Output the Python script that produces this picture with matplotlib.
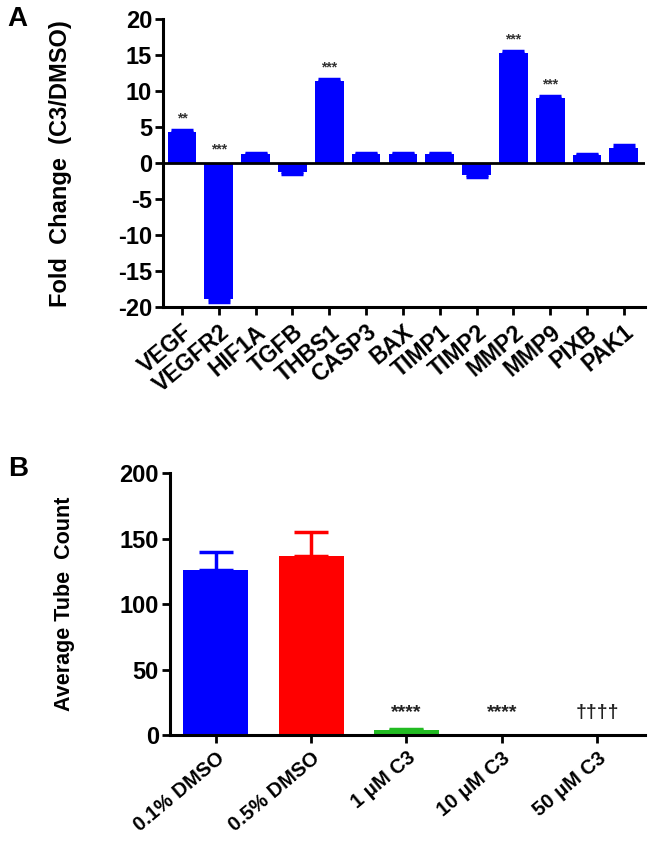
import numpy as np
import matplotlib
matplotlib.use("Agg")
import matplotlib.pyplot as plt

plt.rcParams['font.family'] = ['Liberation Sans', 'DejaVu Sans']
plt.rcParams['font.weight'] = 'bold'
plt.rcParams['axes.unicode_minus'] = False

# panel A data
genes = ['VEGF', 'VEGFR2', 'HIF1A', 'TGFB', 'THBS1', 'CASP3', 'BAX',
         'TIMP1', 'TIMP2', 'MMP2', 'MMP9', 'PIXB', 'PAK1']
fold = [4.3, -18.9, 1.3, -1.2, 11.4, 1.3, 1.3, 1.3, -1.6, 15.3, 9.1, 1.1, 2.2]
fold_err = [0.3, 0.4, 0.2, 0.3, 0.3, 0.2, 0.2, 0.2, 0.3, 0.3, 0.3, 0.2, 0.3]
signif_a = ['**', '***', '', '', '***', '', '', '', '', '***', '***', '', '']

# panel B data
groups = ['0.1% DMSO', '0.5% DMSO', '1 \u03bcM C3', '10 \u03bcM C3', '50 \u03bcM C3']
tubes = [126, 137, 3.5, 0, 0]
tubes_err = [14, 18, 1.5, 0, 0]
bar_colors = ['#0000ff', '#ff0000', '#22bb22', '#0000ff', '#0000ff']
signif_b = ['', '', '****', '****', '\u2020\u2020\u2020\u2020']

fig = plt.figure(figsize=(6.5, 8.42), dpi=100)

# ---- Panel A ----
ax1 = fig.add_axes([0.251, 0.635, 0.741, 0.342])
x = np.arange(len(genes))
ax1.bar(x, fold, width=0.78, color='#0000ff', zorder=2)
err_lo = [0 if v > 0 else e for v, e in zip(fold, fold_err)]
err_hi = [e if v > 0 else 0 for v, e in zip(fold, fold_err)]
ax1.errorbar(x, fold, yerr=[err_lo, err_hi], fmt='none', ecolor='#0000ff',
             elinewidth=2, capsize=8, capthick=2.5, zorder=2)
ax1.axhline(0, color='black', lw=2, zorder=3)
for i, s in enumerate(signif_a):
    if s:
        y = max(fold[i], 0) + fold_err[i] + 0.6
        ax1.text(i, y, s, ha='center', va='bottom', fontsize=10, color='#333333')
ax1.set_ylim(-20, 20)
ax1.set_xlim(-0.51, 12.57)
ax1.set_yticks([-20, -15, -10, -5, 0, 5, 10, 15, 20])
ax1.set_xticks(x)
ax1.set_xticklabels(genes, rotation=40, ha='right', rotation_mode='anchor')
ax1.set_ylabel('Fold  Change  (C3/DMSO)', fontsize=17, fontweight='bold')
ax1.yaxis.set_label_coords(-0.19, 0.5)
for side in ['top', 'right']:
    ax1.spines[side].set_visible(False)
for side in ['left', 'bottom']:
    ax1.spines[side].set_linewidth(2.2)
ax1.tick_params(axis='y', labelsize=17, width=2, length=6, pad=2)
ax1.tick_params(axis='x', labelsize=16.5, width=2, length=6)

# ---- Panel B ----
ax2 = fig.add_axes([0.2615, 0.127, 0.7305, 0.311])
xb = np.arange(len(groups))
ax2.bar(xb, tubes, width=0.68, color=bar_colors, zorder=2)
for i in range(len(groups)):
    if tubes_err[i] > 0:
        ax2.errorbar(xb[i], tubes[i], yerr=[[0], [tubes_err[i]]], fmt='none',
                     ecolor=bar_colors[i], elinewidth=2.5, capsize=12,
                     capthick=2.5, zorder=1)
for i, s in enumerate(signif_b):
    if s:
        ax2.text(i, 11, s, ha='center', va='bottom', fontsize=14, color='#222222')
ax2.set_ylim(0, 200)
ax2.set_xlim(-0.48, 4.5)
ax2.set_yticks([0, 50, 100, 150, 200])
ax2.set_xticks(xb)
ax2.set_xticklabels(groups, rotation=40, ha='right', rotation_mode='anchor')
ax2.set_ylabel('Average Tube  Count', fontsize=15.5, fontweight='bold')
ax2.yaxis.set_label_coords(-0.2, 0.5)
for side in ['top', 'right']:
    ax2.spines[side].set_visible(False)
for side in ['left', 'bottom']:
    ax2.spines[side].set_linewidth(2.2)
ax2.tick_params(axis='y', labelsize=17, width=2, length=6, pad=2)
ax2.tick_params(axis='x', labelsize=14.5, width=2, length=6)

fig.text(0.012, 0.993, 'A', fontsize=20, fontweight='bold', va='top')
fig.text(0.012, 0.458, 'B', fontsize=20, fontweight='bold', va='top')

fig.savefig('out.png', dpi=100)
